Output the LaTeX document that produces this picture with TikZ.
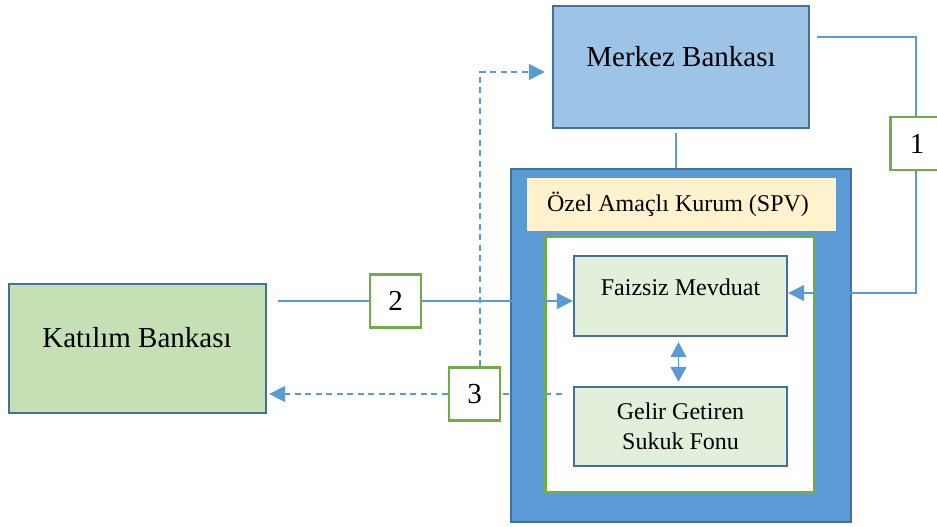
\documentclass[tikz,border=0pt]{standalone}
\usepackage{fontspec}
\setmainfont{Liberation Serif}
\usetikzlibrary{arrows.meta,calc}
\definecolor{mbfill}{HTML}{9DC3E6}
\definecolor{edgeblue}{HTML}{41719C}
\definecolor{lineblue}{HTML}{5B9BD5}
\definecolor{kbfill}{HTML}{C5E0B4}
\definecolor{boxfill}{HTML}{E2EFDA}
\definecolor{spvfill}{HTML}{FFF2CC}
\definecolor{gborder}{HTML}{70AD47}
\begin{document}
\begin{tikzpicture}[x=1pt,y=-1pt,
  box/.style={rectangle, draw=edgeblue, line width=2.4pt, inner sep=0pt},
  bigtext/.style={font=\fontsize{29}{34}\selectfont, inner sep=0pt},
  midtext/.style={font=\fontsize{24}{30}\selectfont, inner sep=0pt, align=center},
  numbox/.style={rectangle, draw=gborder, fill=white, line width=2.4pt,
    minimum width=51pt, minimum height=53pt, inner sep=0pt,
    font=\fontsize{29}{34}\selectfont},
  conn/.style={draw=lineblue, line width=1.2pt},
  dconn/.style={draw=lineblue, line width=1.8pt, dash pattern=on 6pt off 4.5pt},
  tip/.style={-{Triangle[length=16pt,width=16pt]}},
  dtip/.style={{Triangle[length=15pt,width=16pt]}-{Triangle[length=15pt,width=16pt]}}
]
\useasboundingbox (0,0) rectangle (937,527);
\clip (0,0) rectangle (937,527);

% special purpose vehicle frame
\node[rectangle, fill=lineblue, draw=edgeblue, line width=2pt,
  minimum width=340pt, minimum height=353pt, inner sep=0pt] (frame) at (681,345.5) {};
\node[rectangle, fill=spvfill, minimum width=309pt, minimum height=53pt,
  inner sep=0pt] (spv) at (681.5,204.5) {};
\node[midtext] (spvtext) at (678,204) {Özel Amaçlı Kurum (SPV)};
\node[rectangle, fill=white, draw=gborder, line width=3pt,
  minimum width=269pt, minimum height=256pt, inner sep=0pt] (inner) at (679.5,364) {};

% inner boxes
\node[box, fill=boxfill, minimum width=213pt, minimum height=80pt] (fm) at (680.5,296) {};
\node[midtext] (fmtext) at (680.5,287) {Faizsiz Mevduat};
\node[box, fill=boxfill, minimum width=213pt, minimum height=79pt, midtext] (gg) at (680.5,426.5)
  {Gelir Getiren\\Sukuk Fonu};

% banks
\node[box, fill=mbfill, minimum width=256pt, minimum height=122pt] (mb) at (681,67) {};
\node[bigtext] (mbtext) at (681,57) {Merkez Bankası};
\node[box, fill=kbfill, minimum width=257pt, minimum height=129pt] (kb) at (137.5,348.5) {};
\node[bigtext] (kbtext) at (137,338) {Katılım Bankası};

% numbered steps
\node[numbox] (b1) at (916,143.5) {};
\node[bigtext] (b1text) at (917,143.5) {1};
\node[numbox] (b2) at (395.5,301) {2};
\node[numbox] (b3) at (474.5,394) {3};

% connectors
\draw[conn] ([shift={(7pt,30pt)}]mb.east) -| (b1.north);
\draw[conn,tip] (b1.south) |- ([yshift=3pt]fm.east);
\draw[conn] ([shift={(-5pt,-4pt)}]mb.south) -- ([xshift=-5pt]frame.north);
\draw[conn] ([shift={(11pt,47.5pt)}]kb.east) -- (b2.west);
\draw[conn,tip] (b2.east) -- ([yshift=-5pt]fm.west);
\draw[dconn] ([shift={(-11pt,32.5pt)}]gg.west) -- (b3.east);
\draw[dconn,tip] (b3.west) -- ([shift={(2pt,-45.5pt)}]kb.east);
\draw[dconn,tip] ([xshift=5.5pt]b3.north) |- ([shift={(-7pt,-5pt)}]mb.west);
\draw[conn,dtip] ([shift={(-2pt,-5pt)}]fm.south) -- ([shift={(-2pt,4pt)}]gg.north);
\end{tikzpicture}
\end{document}
